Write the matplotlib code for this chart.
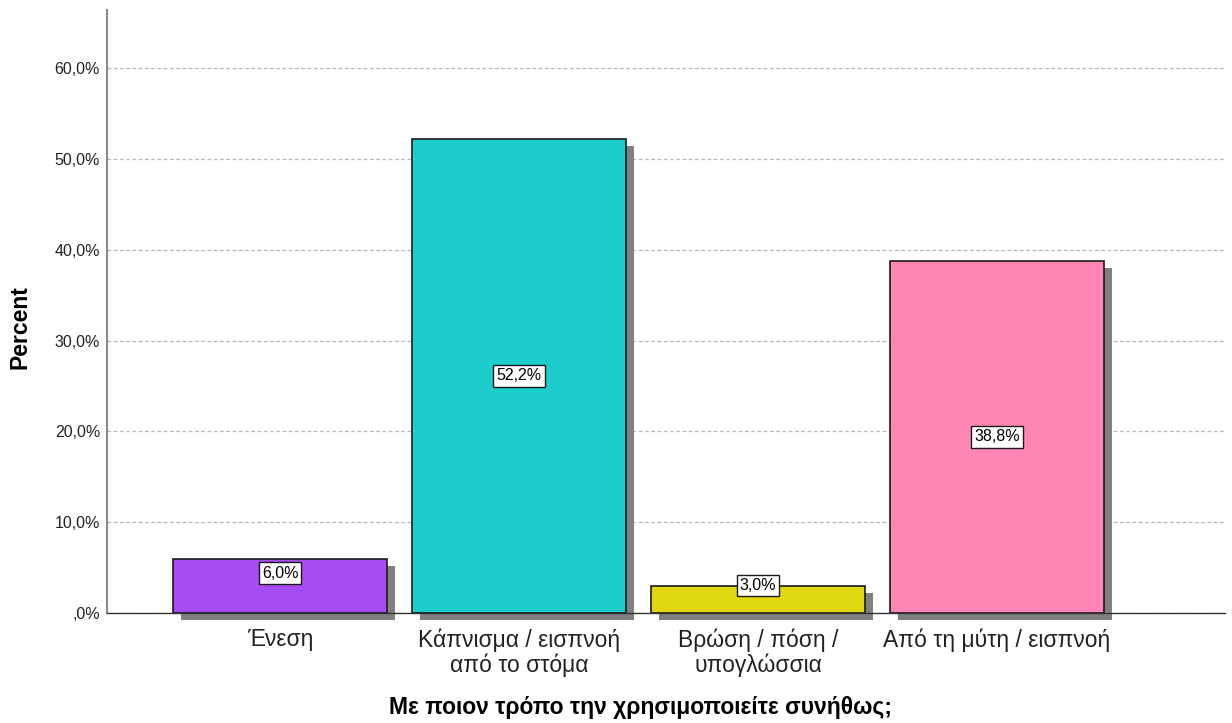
import matplotlib
matplotlib.use("Agg")
import matplotlib.pyplot as plt
from matplotlib.patches import Rectangle

plt.rcParams["font.family"] = ["Liberation Sans", "DejaVu Sans"]

categories = ["Ένεση", "Κάπνισμα / εισπνοή\nαπό το στόμα",
              "Βρώση / πόση /\nυπογλώσσια", "Από τη μύτη / εισπνοή"]
percent = [6.0, 52.2, 3.0, 38.8]
colors = ["#a64cf2", "#1ccdcc", "#e0d70f", "#ff85b5"]
yticks = [0, 10, 20, 30, 40, 50, 60]
ytick_labels = [",0%", "10,0%", "20,0%", "30,0%", "40,0%", "50,0%", "60,0%"]
value_labels = ["6,0%", "52,2%", "3,0%", "38,8%"]

fig = plt.figure(figsize=(12.32, 7.23), dpi=100)
ax = fig.add_axes([107 / 1232, 1 - 613 / 723, (1225 - 107) / 1232, (613 - 10) / 723])

width = 0.895
x = list(range(len(categories)))
# drop shadows
dx, dy = 0.033, -0.8
for xi, v in zip(x, percent):
    ax.add_patch(Rectangle((xi - width / 2 + dx, dy), width, v, color="#808080",
                           zorder=2, clip_on=False, lw=0))
ax.bar(x, percent, width=width, color=colors, edgecolor="#1a1a1a", lw=1.2, zorder=3)

for xi, v, lab in zip(x, percent, value_labels):
    ypos = max(v / 2, min(v, 4.4))
    ax.text(xi, ypos, lab, ha="center", va="center", fontsize=11.5, zorder=5,
            bbox=dict(boxstyle="square,pad=0.2", fc="white", ec="#1a1a1a", lw=1))

ax.set_xlim(-0.724, 3.954)
ax.set_ylim(0, 66.4)
ax.set_yticks(yticks)
ax.set_yticklabels(ytick_labels, fontsize=11.5, color="#222222")
ax.set_xticks(x)
ax.set_xticklabels(categories, fontsize=16.5, color="#222222", linespacing=1.1)
ax.tick_params(axis="x", length=0, pad=11)
ax.tick_params(axis="y", length=0, pad=5)
ax.yaxis.grid(True, ls=(0, (3, 2)), color="#b8b8b8", lw=0.9, zorder=0)
ax.set_axisbelow(True)

for s in ["top", "right"]:
    ax.spines[s].set_visible(False)
ax.spines["left"].set_color("#8a8a8a")
ax.spines["left"].set_linewidth(1.5)
ax.spines["bottom"].set_color("#333333")
ax.spines["bottom"].set_linewidth(1.0)

ax.set_ylabel("Percent", fontsize=16.5, fontweight="bold")
ax.yaxis.set_label_coords(-0.078, 0.474)
ax.set_xlabel("Με ποιον τρόπο την χρησιμοποιείτε συνήθως;", fontsize=16.5,
              fontweight="bold")
ax.xaxis.set_label_coords(0.4776, -0.1575)
ax.xaxis.label.set_va("center")
ax.yaxis.label.set_va("center")

fig.savefig("out.png", dpi=100)
